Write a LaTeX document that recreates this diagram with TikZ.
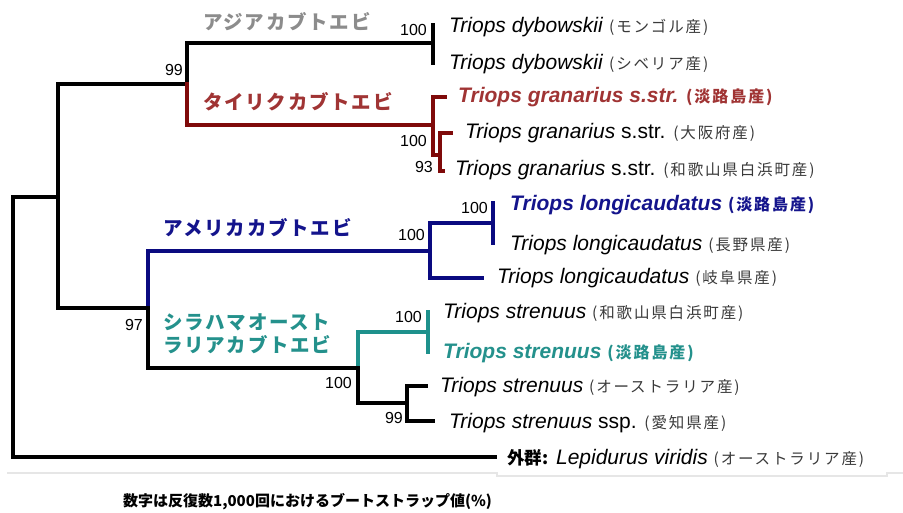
\documentclass[tikz,border=0pt]{standalone}
\usepackage{fontspec}
\setmainfont{Liberation Sans}
\newfontfamily\jp{Noto Sans CJK JP}
\newfontfamily\jpls[LetterSpace=9]{Noto Sans CJK JP}
\newfontfamily\jppar[LetterSpace=12]{Noto Sans CJK JP}
\definecolor{cgray}{HTML}{8C8C8C}
\definecolor{redline}{HTML}{7F0A0A}
\definecolor{redtxt}{HTML}{A03434}
\definecolor{blueline}{HTML}{0A0A80}
\definecolor{bluetxt}{HTML}{14148C}
\definecolor{tealline}{HTML}{1E918C}
\definecolor{tealtxt}{HTML}{24918C}
\definecolor{pgray}{HTML}{3A3A3A}
\definecolor{faint}{HTML}{E6E6E6}
\newcommand\myparen[1]{{\jppar\fontsize{15.5}{18}\selectfont\color{pgray}#1}}
\newcommand\myparenb[1]{{\jppar\bfseries\fontsize{16}{18}\selectfont #1}}
\begin{document}
\begin{tikzpicture}[x=1pt,y=-1pt,
  br/.style={line width=3.2pt,line cap=rect,line join=miter,black},
  redbr/.style={br,line width=4.8pt,redline},
  bluebr/.style={br,line width=4.8pt,blueline},
  tealbr/.style={br,line width=4.6pt,tealline},
  leaf/.style={anchor=west,inner sep=0pt,font=\fontsize{21}{24}\selectfont},
  boot/.style={anchor=east,inner sep=0pt,font=\fontsize{16}{18}\selectfont},
  clade/.style={anchor=west,inner sep=0pt,align=left,font=\jpls\bfseries\fontsize{19.5}{23.5}\selectfont},
  faintline/.style={faint,line width=1.2pt}]
\useasboundingbox (0,0) rectangle (903,513);
% tree nodes
\coordinate (R) at (13,197);
\coordinate (A) at (58,197);
\coordinate (B) at (187,84);
\coordinate (Dyb) at (433,43);
\coordinate (d1) at (433,25);
\coordinate (d2) at (433,63);
\coordinate (G1) at (433,125);
\coordinate (g1) at (445,97);
\coordinate (G2) at (440,155);
\coordinate (g2) at (451,133);
\coordinate (g3) at (443,171);
\coordinate (C) at (148,308);
\coordinate (L1) at (430,251);
\coordinate (L2) at (493,223);
\coordinate (l1) at (493,203);
\coordinate (l2) at (493,243);
\coordinate (l3) at (482,278);
\coordinate (S1) at (358,368);
\coordinate (S2) at (428,332);
\coordinate (s1) at (428,312);
\coordinate (s2) at (428,352);
\coordinate (S3) at (407,403);
\coordinate (s3) at (426,386);
\coordinate (s4) at (433,421);
\coordinate (Out) at (495,457);
% branches
\draw[br] (R) |- (A);
\draw[br] (R) |- (Out);
\draw[br] (A) |- (B);
\draw[br] (A) |- (C);
\draw[br] (B) |- (Dyb);
\draw[br] (Dyb) -- (d1);
\draw[br] (Dyb) -- (d2);
\draw[redbr] (B) |- (G1);
\draw[redbr] (G1) |- (g1);
\draw[redbr] (G1) |- (G2);
\draw[redbr] (G2) |- (g2);
\draw[redbr] (G2) |- (g3);
\draw[bluebr] (C) |- (L1);
\draw[bluebr] (L1) |- (L2);
\draw[bluebr] (L1) |- (l3);
\draw[bluebr] (L2) -- (l1);
\draw[bluebr] (L2) -- (l2);
\draw[br] (C) |- (S1);
\draw[tealbr] (S1) |- (S2);
\draw[tealbr] (S2) -- (s1);
\draw[tealbr] (S2) -- (s2);
\draw[br] (S1) |- (S3);
\draw[br] (S3) |- (s3);
\draw[br] (S3) |- (s4);
% bootstrap values
\node[boot] (b99a) at (183,70) {99};
\node[boot] (b100a) at (427,30) {100};
\node[boot] (b100b) at (427,141) {100};
\node[boot] (b93) at (433,167) {93};
\node[boot] (b100c) at (488,208) {100};
\node[boot] (b100d) at (425,235) {100};
\node[boot] (b97) at (143,325) {97};
\node[boot] (b100e) at (422,317) {100};
\node[boot] (b100f) at (352,383) {100};
\node[boot] (b99b) at (403,418) {99};
% clade labels
\node[clade,text=cgray] (cAsia) at (203,22) {アジアカブトエビ};
\node[clade,text=redtxt] (cTai) at (203,102) {タイリクカブトエビ};
\node[clade,text=bluetxt] (cAme) at (163,228) {アメリカカブトエビ};
\node[clade,text=tealtxt] (cShi) at (163,333.5) {シラハマオースト\\ラリアカブトエビ};
% leaf labels
\node[leaf] (t1) at (449,27) {\textit{Triops dybowskii} \myparen{(モンゴル産)}};
\node[leaf] (t2) at (449,64) {\textit{Triops dybowskii} \myparen{(シベリア産)}};
\node[leaf,text=redtxt] (t3) at (458,97) {\bfseries\itshape Triops granarius s.str. \myparenb{(淡路島産)}};
\node[leaf] (t4) at (465,133) {\textit{Triops granarius} s.str. \myparen{(大阪府産)}};
\node[leaf] (t5) at (455,170) {\textit{Triops granarius} s.str. \myparen{(和歌山県白浜町産)}};
\node[leaf,text=bluetxt] (t6) at (510,205) {\bfseries\itshape Triops longicaudatus \myparenb{(淡路島産)}};
\node[leaf] (t7) at (510,245) {\textit{Triops longicaudatus} \myparen{(長野県産)}};
\node[leaf] (t8) at (497,278) {\textit{Triops longicaudatus} \myparen{(岐阜県産)}};
\node[leaf] (t9) at (443,313) {\textit{Triops strenuus} \myparen{(和歌山県白浜町産)}};
\node[leaf,text=tealtxt] (t10) at (443,353) {\bfseries\itshape Triops strenuus \myparenb{(淡路島産)}};
\node[leaf] (t11) at (440,387) {\textit{Triops strenuus} \myparen{(オーストラリア産)}};
\node[leaf] (t12) at (449,423) {\textit{Triops strenuus} ssp. \myparen{(愛知県産)}};
\node[leaf] (t13) at (507,459) {{\jp\bfseries\fontsize{17.5}{20}\selectfont 外群:} \textit{Lepidurus viridis} \myparen{(オーストラリア産)}};
% faint rule
\draw[faintline] (7,473) -- (497,473) -- (497,476) -- (887,476) -- (887,473) -- (903,473);
% footer
\node[anchor=west,inner sep=0pt] (foot) at (123,502) {\jp\bfseries\fontsize{15}{17}\selectfont 数字は反復数1,000回におけるブートストラップ値(\%)};
\end{tikzpicture}
\end{document}
